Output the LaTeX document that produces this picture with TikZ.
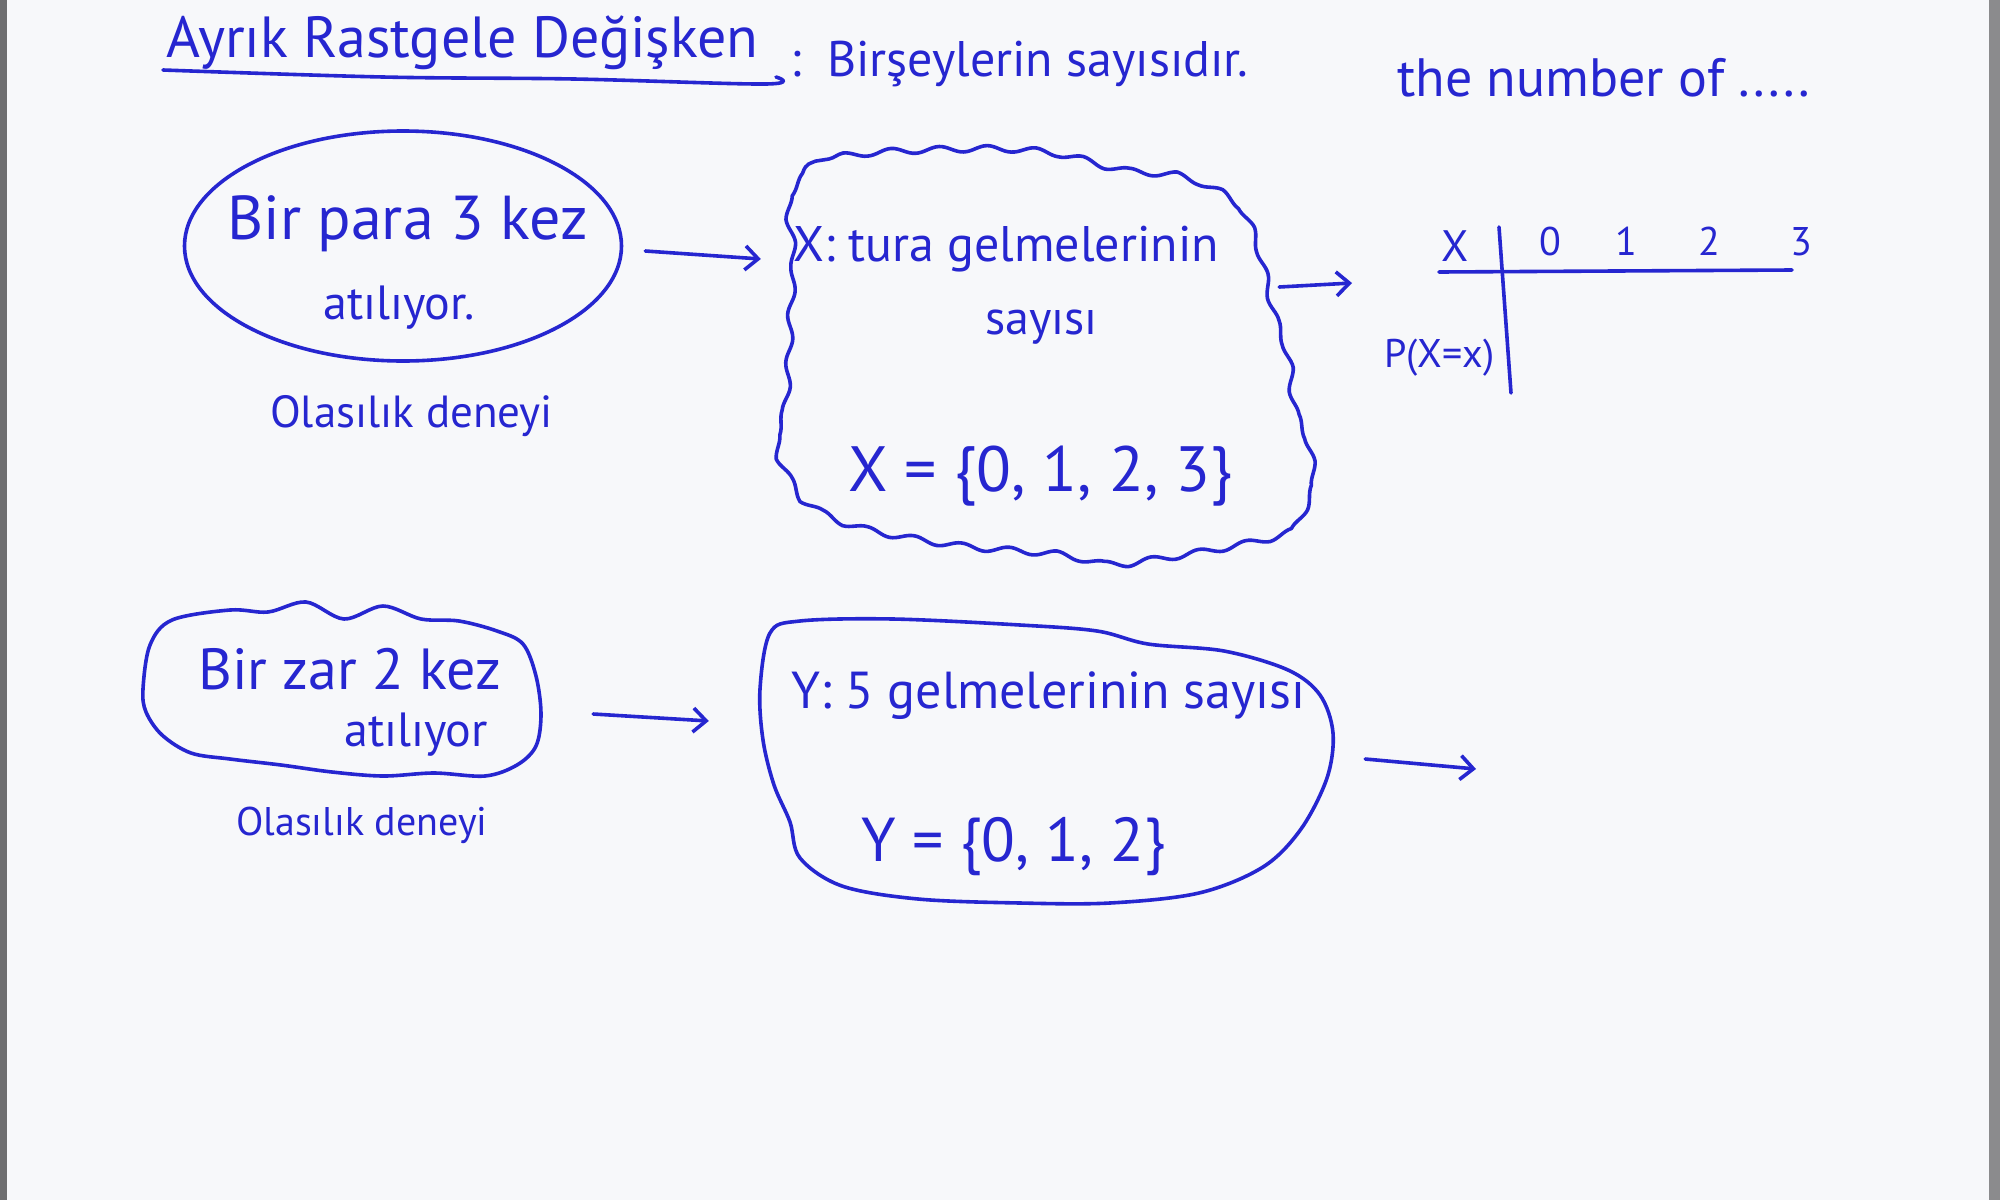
\documentclass[tikz,border=0pt]{standalone}
\usepackage{fontspec}
\setmainfont{PT Sans}
\usetikzlibrary{arrows.meta,decorations.pathmorphing,shapes.geometric}
\definecolor{ink}{RGB}{38,38,208}
\definecolor{paper}{RGB}{247,248,250}
\definecolor{framegray}{RGB}{110,110,112}
\newcommand{\hwfs}[1]{\fontsize{#1pt}{#1pt}\selectfont}
\tikzset{
  hw/.style={text=ink, inner sep=0pt, anchor=base west},
  hwc/.style={text=ink, inner sep=0pt, anchor=base},
  stroke/.style={draw=ink, line width=3.6pt, line cap=round, line join=round},
  arr/.style={stroke, -{Straight Barb[length=13pt,width=24pt,line width=3.6pt]}},
  wavy/.style={decorate, decoration={snake, amplitude=3pt, segment length=48pt}},
  ghost/.style={draw=none, inner sep=0pt}
}
\begin{document}
\begin{tikzpicture}[x=1pt,y=-1pt]
\fill[paper] (0,0) rectangle (2000,1200);
\useasboundingbox (0,0) rectangle (2000,1200);
\fill[framegray] (0,0) rectangle (7,1200);
\fill[framegray!80] (1989,0) rectangle (2000,1200);

% title
\node[hw, font=\hwfs{58}] (title) at (166,57) {Ayrık Rastgele Değişken};
\draw[stroke] plot[smooth, tension=0.6] coordinates {(163,70) (383,77) (574,79) (765,84) (776,77)};
\node[hw, font=\hwfs{50}] (def) at (790,76) {:\, Birşeylerin sayısıdır.};
\node[hw, font=\hwfs{54}] (eng) at (1397,96) {the number of .....};

% first row
\node[ellipse, stroke, minimum width=437pt, minimum height=230pt, inner sep=0pt] (e1) at (403,246) {};
\node[hw, font=\hwfs{62}] (e1a) at (227,239) {Bir para 3 kez};
\node[hw, font=\hwfs{48}] (e1b) at (323,319) {atılıyor.};
\node[hw, font=\hwfs{45}] (e1c) at (270,427) {Olasılık deneyi};

\node[ghost, minimum width=536pt, minimum height=414pt] (c1) at (1033,354) {};
\draw[stroke, wavy] plot[smooth cycle, tension=0.55] coordinates {
 (778,191) (829,159) (969,151) (1046,156) (1110,172) (1173,179) (1224,204)
 (1244,242) (1263,319) (1276,357) (1282,408) (1295,440) (1301,485) (1291,510)
 (1276,529) (1224,542) (1148,555) (1097,561) (1046,551) (944,542) (842,523)
 (791,497) (772,466) (763,440) (772,408) (776,357) (778,306) (781,255)};
\node[hw, font=\hwfs{50}] (c1a) at (793,261) {X: tura gelmelerinin};
\node[hw, font=\hwfs{48}] (c1b) at (985,334) {sayısı};
\node[hw, font=\hwfs{64}] (c1c) at (848,491) {X = \{0, 1, 2, 3\}};

\draw[arr] ([xshift=22pt,yshift=-5pt]e1.east) -- ([xshift=-4pt,yshift=95pt]c1.west);

% table
\coordinate (t2) at (1352,283);
\draw[arr] ([xshift=-22pt,yshift=67pt]c1.east) -- (t2);
\node[hw, font=\hwfs{44}] (tx) at (1441,261) {X};
\node[hwc, font=\hwfs{40}] (t0) at (1550,255) {0};
\node[hwc, font=\hwfs{40}] (t1) at (1626,255) {1};
\node[hwc, font=\hwfs{40}] (tt2) at (1709,255) {2};
\node[hwc, font=\hwfs{40}] (t3) at (1801,255) {3};
\node[hw, font=\hwfs{40}] (tp) at (1384,367) {P(X=x)};
\draw[stroke] (1499,227) -- (1511,393);
\draw[stroke] (1439,272) -- (1792,270);

% second row
\node[ghost, minimum width=398pt, minimum height=176pt] (e2) at (342,690) {};
\draw[stroke] plot[smooth cycle, tension=0.55] coordinates {
 (143,689) (150,645) (172,620) (230,610) (268,612) (306,602) (344,619) (383,606)
 (421,619) (459,621) (497,631) (523,644) (536,676) (541,714) (536,746) (517,765)
 (485,776) (434,773) (383,776) (332,772) (281,765) (230,759) (191,753) (162,735) (146,712)};
\node[hw, font=\hwfs{58}] (e2a) at (198,689) {Bir zar 2 kez};
\node[hw, font=\hwfs{48}] (e2b) at (344,746) {atılıyor};
\node[hw, font=\hwfs{40}] (e2c) at (236,835) {Olasılık deneyi};

\node[ghost, minimum width=573pt, minimum height=284pt] (c2) at (1046.5,761) {};
\draw[stroke] plot[smooth cycle, tension=0.55] coordinates {
 (770,633) (800,621) (893,619) (1020,625) (1097,631) (1148,644) (1224,651)
 (1288,670) (1320,695) (1333,733) (1327,778) (1301,829) (1263,867) (1199,893)
 (1110,903) (1020,903) (918,899) (842,886) (800,858) (790,822)
 (774,785) (763,740) (760,689)};
\node[hw, font=\hwfs{52}] (c2a) at (791,708) {Y: 5 gelmelerinin sayısı};
\node[hw, font=\hwfs{62}] (c2b) at (861,861) {Y = \{0, 1, 2\}};

\draw[arr] ([xshift=52pt,yshift=-24pt]e2.east) -- ([xshift=-51pt,yshift=40pt]c2.west);
\coordinate (a4) at (1476,769);
\draw[arr] ([xshift=32pt,yshift=2pt]c2.east) -- (a4);
\end{tikzpicture}
\end{document}
